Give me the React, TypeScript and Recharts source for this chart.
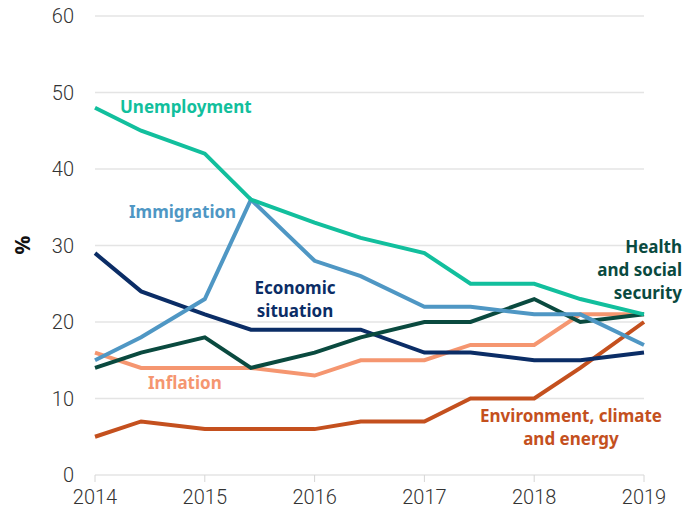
import { LineChart, Line, XAxis, YAxis, CartesianGrid } from 'recharts';

// survey waves: start of year and ~late May
const periods = [2014, 2014.42, 2015, 2015.42, 2016, 2016.42, 2017, 2017.42, 2018, 2018.42, 2019];

const unemployment = [48, 45, 42, 36, 33, 31, 29, 25, 25, 23, 21];
const immigration = [15, 18, 23, 36, 28, 26, 22, 22, 21, 21, 17];
const economic = [29, 24, 21, 19, 19, 19, 16, 16, 15, 15, 16];
const health = [14, 16, 18, 14, 16, 18, 20, 20, 23, 20, 21];
const inflation = [16, 14, 14, 14, 13, 15, 15, 17, 17, 21, 21];
const environment = [5, 7, 6, 6, 6, 7, 7, 10, 10, 14, 20];

const yearTicks = [2014, 2015, 2016, 2017, 2018, 2019];
const valueTicks = [0, 10, 20, 30, 40, 50, 60];

const series = [
  { key: 'environment', color: '#c4501e' },
  { key: 'inflation', color: '#f59670' },
  { key: 'economic', color: '#0b2d66' },
  { key: 'health', color: '#0a4a3f' },
  { key: 'immigration', color: '#4f97c4' },
  { key: 'unemployment', color: '#12bf9d' },
];

// annotation text boxes (left/top in px, align)
const annotations = [
  { lines: ['Unemployment'], color: '#12bf9d', left: 120, top: 95, align: 'left' },
  { lines: ['Immigration'], color: '#4f97c4', left: 129, top: 200, align: 'left' },
  { lines: ['Economic', 'situation'], color: '#0b2d66', left: 245, top: 276, width: 100, align: 'center' },
  { lines: ['Health', 'and social', 'security'], color: '#0a4a3f', left: 560, top: 235, width: 122, align: 'right' },
  { lines: ['Inflation'], color: '#f59670', left: 148, top: 371, align: 'left' },
  { lines: ['Environment, climate', 'and energy'], color: '#c4501e', left: 460, top: 404, width: 222, align: 'center' },
];

const data = periods.map((p, i) => ({
  period: p,
  unemployment: unemployment[i],
  immigration: immigration[i],
  economic: economic[i],
  health: health[i],
  inflation: inflation[i],
  environment: environment[i],
}));

const FONT = 'Roboto, "Noto Sans", sans-serif';
const LABEL_FONT = '"Noto Sans", Roboto, sans-serif';

export default function App() {
  return (
    <div style={{ position: 'absolute', left: 0, top: 0, width: 698, height: 514, fontFamily: FONT, background: '#fff' }}>
      <LineChart width={698} height={514} data={data} margin={{ top: 16, right: 54, left: 0, bottom: 0 }}>
        <CartesianGrid vertical={false} stroke="#e4e4e4" strokeWidth={1.5} />
        <XAxis
          dataKey="period"
          type="number"
          domain={[2014, 2019]}
          ticks={yearTicks}
          height={39}
          axisLine={false}
          tickLine={{ stroke: '#d6d6d6' }}
          tickSize={7}
          tickMargin={8}
          tick={{ fill: '#333', fontSize: 20, fontWeight: 300, fontFamily: FONT }}
        />
        <YAxis
          type="number"
          domain={[0, 60]}
          ticks={valueTicks}
          width={95}
          axisLine={false}
          tickLine={false}
          tickMargin={15}
          tick={{ fill: '#333', fontSize: 20, fontWeight: 300, fontFamily: FONT }}
        />
        {series.map((s) => (
          <Line
            key={s.key}
            dataKey={s.key}
            type="linear"
            stroke={s.color}
            strokeWidth={4}
            dot={false}
            isAnimationActive={false}
          />
        ))}
      </LineChart>
      <div
        style={{
          position: 'absolute',
          left: 22,
          top: 245,
          transform: 'translate(-50%, -50%) rotate(-90deg)',
          fontWeight: 700,
          fontSize: 21,
          color: '#111',
          fontFamily: LABEL_FONT,
        }}
      >
        %
      </div>
      {annotations.map((a, i) => (
        <div
          key={i}
          style={{
            position: 'absolute',
            left: a.left,
            top: a.top,
            width: a.width,
            textAlign: a.align as any,
            color: a.color,
            fontWeight: 700,
            fontSize: 17,
            lineHeight: '23px',
            whiteSpace: 'nowrap',
            fontFamily: LABEL_FONT,
          }}
        >
          {a.lines.map((l, j) => (
            <div key={j}>{l}</div>
          ))}
        </div>
      ))}
    </div>
  );
}
